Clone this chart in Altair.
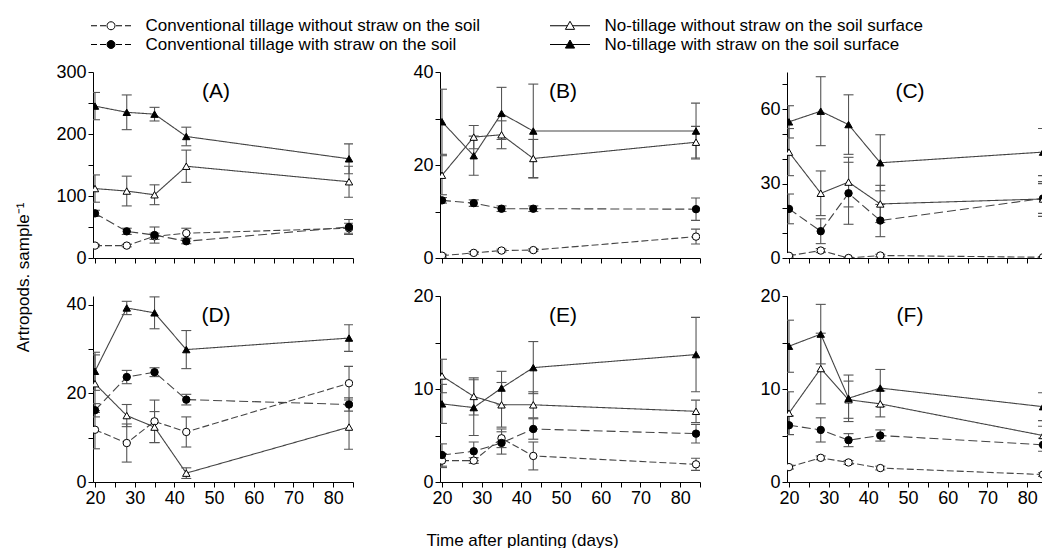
import altair as alt
import pandas as pd

# ---------------- data ----------------
days = [20, 28, 35, 43, 84]

CT0 = "Conventional tillage without straw on the soil"
CT1 = "Conventional tillage with straw on the soil"
NT0 = "No-tillage without straw on the soil surface"
NT1 = "No-tillage with straw on the soil surface"
series_order = [CT0, CT1, NT0, NT1]

panel_labels = ["(A)", "(B)", "(C)", "(D)", "(E)", "(F)"]

# Panel A
A_ct0 = [20, 20, 35, 40, 48];        A_ct0_err = [2, 2, 5, 8, 8]
A_ct1 = [72, 43, 37, 27, 50];        A_ct1_err = [5, 5, 13, 4, 12]
A_nt0 = [112, 108, 102, 148, 123];   A_nt0_err = [22, 24, 16, 26, 25]
A_nt1 = [245, 235, 232, 196, 160];   A_nt1_err = [22, 28, 11, 15, 24]
# Panel B
B_ct0 = [0.5, 1.1, 1.6, 1.7, 4.6];   B_ct0_err = [0.3, 0.3, 0.3, 0.3, 1.6]
B_ct1 = [12.4, 11.8, 10.6, 10.6, 10.5]; B_ct1_err = [0.6, 0.7, 0.6, 0.6, 2.4]
B_nt0 = [17.8, 26.0, 26.5, 21.4, 24.9]; B_nt0_err = [4.2, 2.5, 3.0, 4.1, 3.4]
B_nt1 = [29.3, 22.0, 31.1, 27.3, 27.3]; B_nt1_err = [7.0, 4.2, 5.6, 10.1, 6.0]
# Panel C
C_ct0 = [0.9, 3.0, 0.0, 1.0, 0.3];   C_ct0_err = [0.5, 0.8, 0.3, 0.5, 0.3]
C_ct1 = [19.8, 10.8, 26.1, 15.1, 24.0]; C_ct1_err = [6.0, 5.0, 12.5, 6.5, 6.0]
C_nt0 = [42.7, 26.1, 30.6, 21.8, 23.8]; C_nt0_err = [9.5, 9.0, 10.0, 7.5, 7.0]
C_nt1 = [54.9, 59.2, 53.8, 38.4, 42.7]; C_nt1_err = [6.5, 13.9, 12.0, 11.3, 9.5]
# Panel D
D_ct0 = [11.8, 8.8, 13.7, 11.3, 22.3]; D_ct0_err = [4.3, 4.3, 4.8, 3.4, 3.8]
D_ct1 = [16.2, 23.7, 24.8, 18.6, 17.5]; D_ct1_err = [1.5, 1.5, 1.0, 1.2, 1.5]
D_nt0 = [22.2, 15.0, 12.4, 2.0, 12.4]; D_nt0_err = [6.5, 2.5, 3.5, 1.2, 5.0]
D_nt1 = [25.0, 39.3, 38.2, 29.9, 32.5]; D_nt1_err = [4.3, 1.5, 3.6, 4.3, 3.0]
# Panel E
E_ct0 = [2.3, 2.3, 4.7, 2.8, 1.9];   E_ct0_err = [0.75, 0.3, 1.0, 1.5, 0.65]
E_ct1 = [2.9, 3.3, 4.2, 5.7, 5.2];   E_ct1_err = [1.2, 1.0, 1.2, 1.1, 1.0]
E_nt0 = [11.4, 9.2, 8.3, 8.3, 7.6];  E_nt0_err = [1.8, 2.0, 2.4, 1.4, 1.2]
E_nt1 = [8.4, 8.0, 10.1, 12.3, 13.7]; E_nt1_err = [2.1, 3.0, 1.8, 2.8, 4.0]
# Panel F
F_ct0 = [1.6, 2.6, 2.1, 1.5, 0.8];   F_ct0_err = [0.2, 0.2, 0.2, 0.2, 0.2]
F_ct1 = [6.1, 5.6, 4.5, 5.0, 4.0];   F_ct1_err = [1.0, 1.3, 0.7, 0.6, 0.7]
F_nt0 = [7.4, 12.2, 8.85, 8.4, 5.0]; F_nt0_err = [2.3, 3.8, 2.0, 1.4, 1.0]
F_nt1 = [14.6, 15.9, 9.0, 10.1, 8.1]; F_nt1_err = [2.8, 3.2, 2.5, 2.0, 1.5]

panel_data = {
    "(A)": {CT0: (A_ct0, A_ct0_err), CT1: (A_ct1, A_ct1_err), NT0: (A_nt0, A_nt0_err), NT1: (A_nt1, A_nt1_err)},
    "(B)": {CT0: (B_ct0, B_ct0_err), CT1: (B_ct1, B_ct1_err), NT0: (B_nt0, B_nt0_err), NT1: (B_nt1, B_nt1_err)},
    "(C)": {CT0: (C_ct0, C_ct0_err), CT1: (C_ct1, C_ct1_err), NT0: (C_nt0, C_nt0_err), NT1: (C_nt1, C_nt1_err)},
    "(D)": {CT0: (D_ct0, D_ct0_err), CT1: (D_ct1, D_ct1_err), NT0: (D_nt0, D_nt0_err), NT1: (D_nt1, D_nt1_err)},
    "(E)": {CT0: (E_ct0, E_ct0_err), CT1: (E_ct1, E_ct1_err), NT0: (E_nt0, E_nt0_err), NT1: (E_nt1, E_nt1_err)},
    "(F)": {CT0: (F_ct0, F_ct0_err), CT1: (F_ct1, F_ct1_err), NT0: (F_nt0, F_nt0_err), NT1: (F_nt1, F_nt1_err)},
}

rows = []
for p, sdict in panel_data.items():
    for s, (vals, errs) in sdict.items():
        for d, v, e in zip(days, vals, errs):
            rows.append({"panel": p, "series": s, "day": d, "value": v,
                         "lo": max(v - e, 0), "hi": v + e})
df = pd.DataFrame(rows)

# ---------------- styling ----------------
FONT = "Liberation Sans"
DASHES = [[7, 3], [9, 4], [1, 0], [1, 0]]
SHAPES = ["circle", "circle", "triangle-up", "triangle-up"]
FILLS = ["white", "black", "white", "black"]
SIZES = [55, 55, 70, 70]

PATH_CT = "M-20,0L-14,0M-11,0L-5,0M5,0L11,0M14,0L20,0M4,0A4,4,0,1,1,-4,0A4,4,0,1,1,4,0Z"
PATH_NT = "M-20,0L-2.6,0M2.6,0L20,0M0,-4.5L4.6,3.6L-4.6,3.6Z"
LEGEND_PATHS = [PATH_CT, PATH_CT, PATH_NT, PATH_NT]

PANEL_W = 260
PANEL_W_LAST = 255
PANEL_H = 186
PX_PER_DAY = PANEL_W / (85 - 19.5)


def make_panel(label, ydom, ystep, ylab, xlabels, last_col, ytitle=False, xtitle=False, legend=False):
    xmax = 85 if not last_col else 19.5 + PANEL_W_LAST / PX_PER_DAY
    width = PANEL_W_LAST if last_col else PANEL_W
    d = df[df.panel == label]
    xvals = [v for v in range(20, 86, 5) if v <= xmax]
    xaxis_kw = dict(values=xvals, labels=xlabels,
                    labelExpr="datum.value % 10 == 0 ? datum.label : ''")
    if xtitle:
        xaxis_kw.update(title="Time after planting (days)", titleX=82, titleY=58,
                        titleAlign="center", titleBaseline="middle")
    else:
        xaxis_kw.update(title=None)
    xaxis = alt.Axis(**xaxis_kw)
    yaxis_kw = dict(values=list(range(0, ydom[1] + 1, ystep)),
                    labelExpr=f"datum.value % {ylab} == 0 ? datum.label : ''")
    if ytitle:
        yaxis_kw.update(title="Artropods. sample⁻¹", titleX=-70, titleY=-19,
                        titleAngle=270, titleAlign="center", titleBaseline="middle")
    else:
        yaxis_kw.update(title=None)
    yaxis = alt.Axis(**yaxis_kw)
    xs = alt.Scale(domain=[19.5, xmax], nice=False, zero=False)
    ys = alt.Scale(domain=ydom, nice=False, zero=False)

    X = alt.X("day:Q", scale=xs, axis=xaxis)
    base = alt.Chart(d)

    lines = base.mark_line(color="#444444", strokeWidth=1.1, clip=True).encode(
        x=X, y=alt.Y("value:Q", scale=ys, axis=yaxis),
        strokeDash=alt.StrokeDash("series:N", scale=alt.Scale(domain=series_order, range=DASHES), legend=None),
    )
    bars = base.mark_rule(color="#555555", strokeWidth=1.1, clip=True).encode(
        x=X, y=alt.Y("lo:Q", scale=ys, axis=yaxis), y2="hi:Q")
    cap_lo = base.mark_tick(orient="horizontal", size=10, thickness=1.1, color="#555555",
                            opacity=1, clip=True).encode(x=X, y=alt.Y("lo:Q", scale=ys, axis=yaxis))
    cap_hi = base.mark_tick(orient="horizontal", size=10, thickness=1.1, color="#555555",
                            opacity=1, clip=True).encode(x=X, y=alt.Y("hi:Q", scale=ys, axis=yaxis))
    pts = base.mark_point(stroke="black", strokeWidth=1, opacity=1, fillOpacity=1, clip=True).encode(
        x=X, y=alt.Y("value:Q", scale=ys, axis=yaxis),
        shape=alt.Shape("series:N", scale=alt.Scale(domain=series_order, range=SHAPES), legend=None),
        fill=alt.Fill("series:N", scale=alt.Scale(domain=series_order, range=FILLS), legend=None),
        size=alt.Size("series:N", scale=alt.Scale(domain=series_order, range=SIZES), legend=None),
    )
    txt = alt.Chart(pd.DataFrame({"t": [label]})).mark_text(
        font=FONT, fontSize=21, color="black", align="center", baseline="middle"
    ).encode(text="t:N", x=alt.value(123), y=alt.value(20))

    layers = [lines, bars, cap_lo, cap_hi, pts, txt]
    if legend:
        leg_kw = dict(title=None, orient="none", legendX=-2, legendY=-55, columns=2,
                      symbolSize=4, symbolStrokeWidth=1, symbolOffset=11.5, labelOffset=26,
                      labelFont=FONT, labelFontSize=17, labelColor="black", labelLimit=600,
                      columnPadding=67, rowPadding=1, gridAlign="each")
        dummy = alt.Chart(d).transform_filter("false").mark_point(
            stroke="black", strokeWidth=1, opacity=1, size=4
        ).encode(
            shape=alt.Shape("series:N", scale=alt.Scale(domain=series_order, range=LEGEND_PATHS),
                            legend=alt.Legend(**leg_kw)),
            fill=alt.Fill("series:N", scale=alt.Scale(domain=series_order, range=FILLS),
                          legend=alt.Legend(**leg_kw)),
        )
        layers.append(dummy)
    ch = alt.layer(*layers).properties(width=width, height=PANEL_H)
    if legend:
        ch = ch.resolve_scale(shape="independent", fill="independent", size="independent")
    return ch


pA = make_panel("(A)", [0, 300], 50, 100, False, False, legend=True)
pB = make_panel("(B)", [0, 40], 10, 20, False, False)
pC = make_panel("(C)", [0, 75], 10, 30, False, True)
pD = make_panel("(D)", [0, 42], 10, 20, True, False, ytitle=True)
pE = make_panel("(E)", [0, 20], 5, 10, True, False, xtitle=True)
pF = make_panel("(F)", [0, 20], 5, 10, True, True)

chart = alt.concat(
    pA, pB, pC, pD, pE, pF, columns=3,
    spacing={"row": 38, "column": 87}, bounds="flush",
    padding={"left": 13, "top": 17, "right": 0, "bottom": 0},
).configure_view(stroke=None).configure_axis(
    grid=False, domainColor="black", tickColor="black", domainWidth=1, tickWidth=1,
    labelColor="black", labelFont=FONT, labelFontSize=18, tickSize=5, labelPadding=2,
    labelFlush=False, labelOverlap=False, titleFont=FONT, titleFontSize=17,
    titleColor="black", titleFontWeight="normal",
)

chart.save("out.html", embed_options={"renderer": "svg", "actions": False})
